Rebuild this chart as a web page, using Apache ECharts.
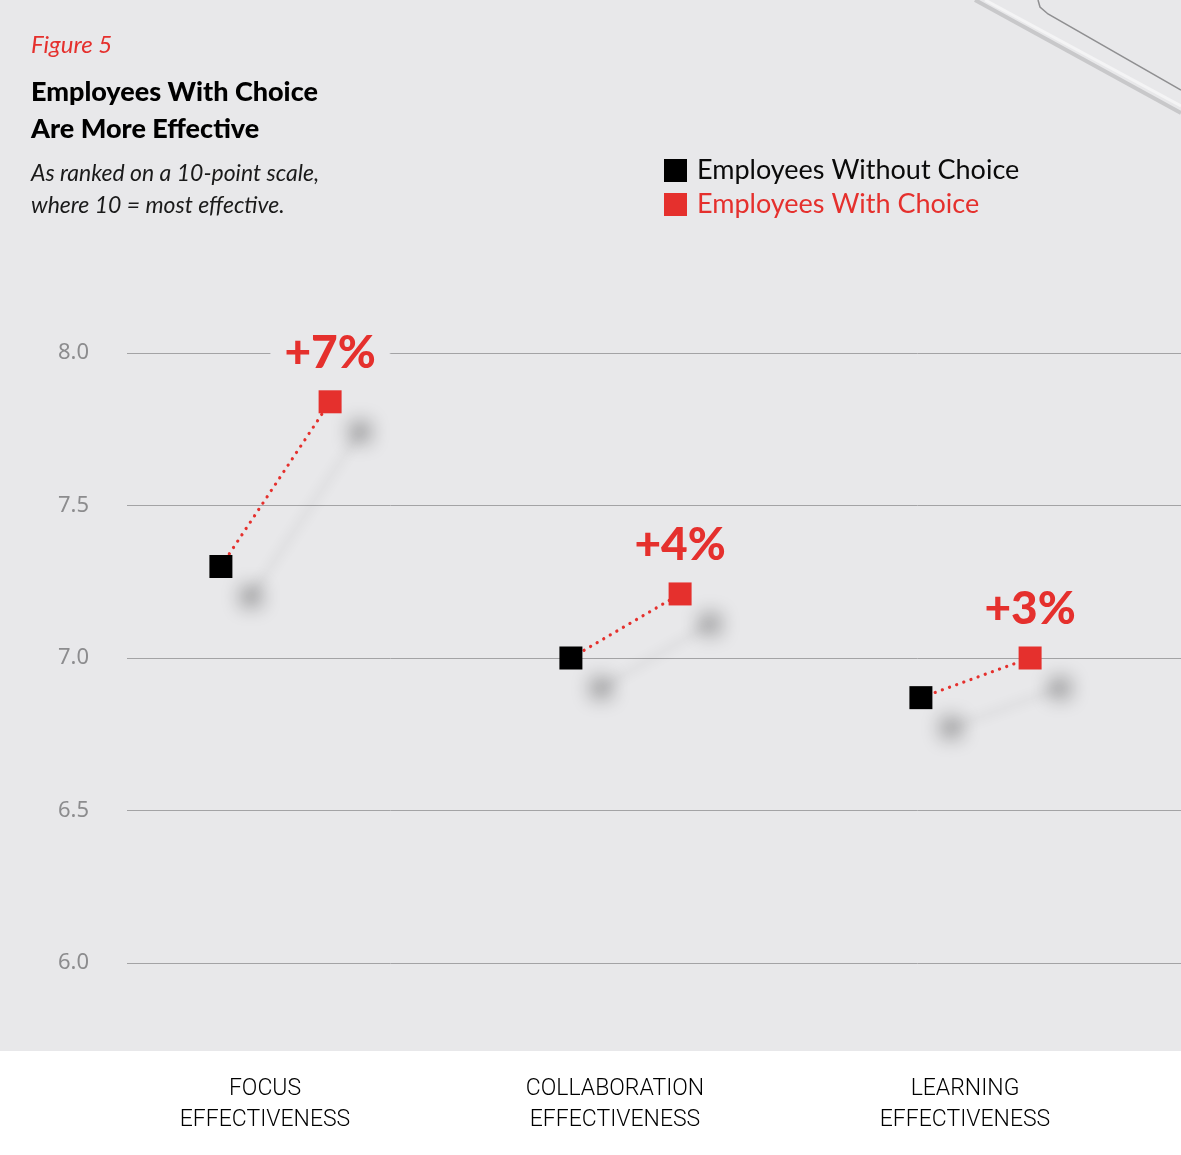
<!DOCTYPE html>
<html>
<head>
<meta charset="utf-8">
<script src="https://cdn.jsdelivr.net/npm/echarts@6/dist/echarts.min.js"></script>
<style>
html,body{margin:0;padding:0;background:#fff;}
#chart{width:1181px;height:1155px;}
</style>
</head>
<body>
<div id="chart"></div>
<script>
const categories = ['FOCUS\nEFFECTIVENESS', 'COLLABORATION\nEFFECTIVENESS', 'LEARNING\nEFFECTIVENESS'];
const withoutChoice = [7.30, 7.00, 6.87];
const withChoice = [7.84, 7.21, 7.00];
const gainLabels = ['+7%', '+4%', '+3%'];
const yMin = 6.0, yMax = 8.0, yInterval = 0.5;
const seriesNames = ['Employees Without Choice', 'Employees With Choice'];

const offWithout = -0.126, offWith = 0.186;
const RED = '#e5302d';
const BG = '#e8e8ea';

const chart = echarts.init(document.getElementById('chart'));
const shadow = {shadowColor: 'rgba(0,0,0,0.28)', shadowBlur: 18, shadowOffsetX: 30, shadowOffsetY: 30};

const option = {
  backgroundColor: BG,
  animation: false,
  graphic: [
    {type: 'rect', z: -10, shape: {x: 0, y: 1051, width: 1181, height: 104}, style: {fill: '#ffffff'}},
    {type: 'polyline', shape: {points: [[975, 0], [1181, 113]]}, style: {stroke: '#c8c8ca', lineWidth: 4}},
    {type: 'polyline', shape: {points: [[985, 0], [1181, 106]]}, style: {stroke: '#f4f4f5', lineWidth: 3}},
    {type: 'polyline', shape: {points: [[1038, 0], [1040, 7], [1048, 14], [1181, 90]]}, style: {stroke: '#8f8f91', lineWidth: 1.5, fill: null}},
    {type: 'text', left: 31, top: 33, style: {text: 'Figure 5', font: 'italic 24px Lato', fill: RED}},
    {type: 'text', left: 31, top: 74, style: {text: 'Employees With Choice\nAre More Effective', font: '900 27px Lato', fill: '#000000', lineHeight: 37}},
    {type: 'text', left: 31, top: 158, style: {text: 'As ranked on a 10-point scale,\nwhere 10 = most effective.', font: 'italic 23px Lato', fill: '#1a1a1a', lineHeight: 32}}
  ],
  legend: {
    orient: 'vertical', left: 664, top: 157, itemWidth: 23, itemHeight: 23, itemGap: 7, padding: 0,
    icon: 'rect',
    itemStyle: {opacity: 1, shadowBlur: 0, shadowOffsetX: 0, shadowOffsetY: 0, shadowColor: 'transparent'},
    textStyle: {fontFamily: 'Lato', fontSize: 27, padding: [0, 0, 0, 5]},
    data: [
      {name: seriesNames[0], textStyle: {color: '#0a0a0a'}},
      {name: seriesNames[1], textStyle: {color: RED}}
    ]
  },
  grid: [
    {left: 127, right: 0, top: 353, height: 610},
    {left: 90, width: 1050, top: 353, height: 610}
  ],
  xAxis: [
    {gridIndex: 0, type: 'value', min: 0, max: 1, show: false},
    {gridIndex: 1, type: 'value', min: -0.5, max: 2.5, show: false},
    {gridIndex: 1, type: 'category', data: categories, position: 'bottom',
      axisLine: {show: false}, axisTick: {show: false},
      axisLabel: {margin: 111, fontFamily: 'Roboto', fontWeight: 300, fontSize: 23, lineHeight: 31, color: '#000'}}
  ],
  yAxis: [
    {gridIndex: 0, type: 'value', min: yMin, max: yMax, interval: yInterval,
      axisLine: {show: false}, axisTick: {show: false},
      splitLine: {lineStyle: {color: '#a3a3a5', width: 1}},
      axisLabel: {formatter: v => v.toFixed(1), fontFamily: 'Noto Sans', fontSize: 22, color: '#8c8c8e', margin: 38, padding: [6, 0, 0, 0]}},
    {gridIndex: 1, type: 'value', min: yMin, max: yMax, show: false}
  ],
  series: [
    {
      type: 'lines', coordinateSystem: 'cartesian2d', xAxisIndex: 1, yAxisIndex: 1, z: 3,
      lineStyle: {color: RED, width: 3.2, type: [0.1, 7.5], cap: 'round', opacity: 1,
        shadowColor: 'rgba(0,0,0,0.3)', shadowBlur: 12, shadowOffsetX: 30, shadowOffsetY: 30},
      data: withChoice.map((v, i) => ({coords: [[i + offWithout, withoutChoice[i]], [i + offWith, v]]}))
    },
    {
      name: seriesNames[0], type: 'scatter', xAxisIndex: 1, yAxisIndex: 1, z: 5,
      symbol: 'rect', symbolSize: 23,
      itemStyle: Object.assign({color: '#000000', opacity: 1}, shadow),
      data: withoutChoice.map((v, i) => [i + offWithout, v])
    },
    {
      name: seriesNames[1], type: 'scatter', xAxisIndex: 1, yAxisIndex: 1, z: 5,
      symbol: 'rect', symbolSize: 23,
      itemStyle: Object.assign({color: RED, opacity: 1}, shadow),
      label: {
        show: true, position: 'top', distance: 14,
        formatter: p => gainLabels[p.dataIndex],
        fontFamily: 'Lato', fontWeight: 900, fontSize: 46, color: RED,
        backgroundColor: BG, padding: [0, 14, 0, 14]
      },
      data: withChoice.map((v, i) => [i + offWith, v])
    }
  ]
};
chart.setOption(option);
</script>
</body>
</html>
